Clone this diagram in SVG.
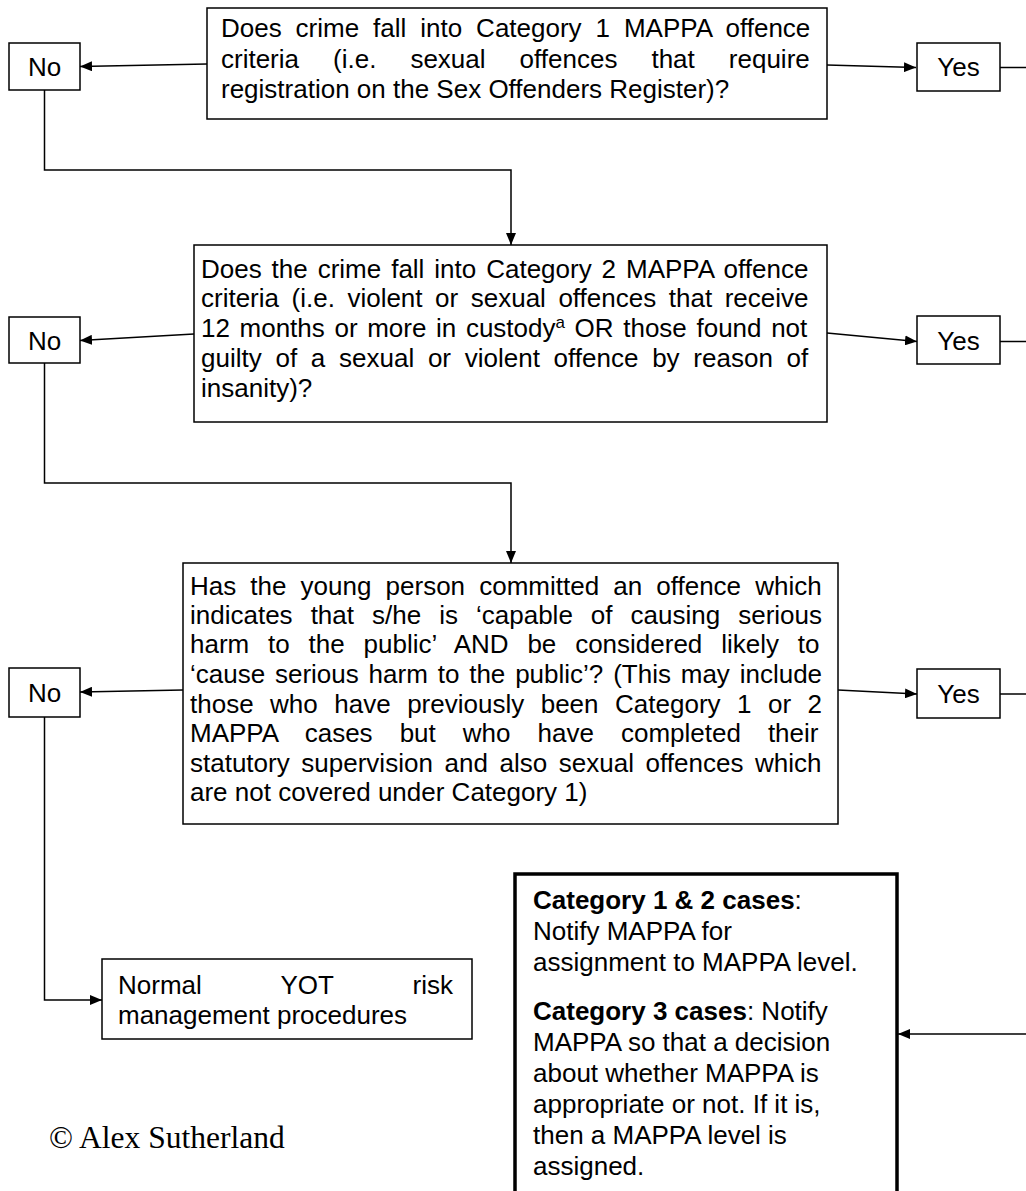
<svg xmlns="http://www.w3.org/2000/svg" width="1026" height="1191" viewBox="0 0 1026 1191">
<style>
  .box{fill:#fff;stroke:#000;stroke-width:1.5}
  .thick{fill:#fff;stroke:#000;stroke-width:3.5}
  .t{font-family:"Liberation Sans",Arial,sans-serif;font-size:26px;fill:#000}
  .c{text-anchor:middle}
  .b{font-weight:bold}
  .cr{font-family:"Liberation Serif","Times New Roman",serif;font-size:31.5px;fill:#000}
  .ln{fill:none;stroke:#000;stroke-width:1.5}
</style>
<defs>
  <marker id="ah" markerUnits="userSpaceOnUse" markerWidth="12" markerHeight="10" refX="12" refY="5" orient="auto">
    <path d="M0,0 L12,5 L0,10 Z" fill="#000"/>
  </marker>
</defs>
<rect width="1026" height="1191" fill="#fff"/>

<g id="connectors">
  <line class="ln" x1="207" y1="64" x2="80" y2="66.5" marker-end="url(#ah)"/>
  <line class="ln" x1="827" y1="65" x2="916" y2="67.5" marker-end="url(#ah)"/>
  <line class="ln" x1="1000" y1="67.5" x2="1026" y2="67.5"/>
  <path class="ln" d="M44.5,90 V170 H511 V245" marker-end="url(#ah)"/>
  <line class="ln" x1="194" y1="334" x2="80" y2="340.5" marker-end="url(#ah)"/>
  <line class="ln" x1="827" y1="333" x2="917" y2="341.5" marker-end="url(#ah)"/>
  <line class="ln" x1="1000" y1="341.5" x2="1026" y2="341.5"/>
  <path class="ln" d="M44.5,363 V483 H511 V563" marker-end="url(#ah)"/>
  <line class="ln" x1="183" y1="690" x2="80" y2="692" marker-end="url(#ah)"/>
  <line class="ln" x1="838" y1="690" x2="917" y2="694" marker-end="url(#ah)"/>
  <line class="ln" x1="1000" y1="694" x2="1026" y2="694"/>
  <path class="ln" d="M44.5,717 V1000 H102" marker-end="url(#ah)"/>
  <line class="ln" x1="1026" y1="1034" x2="898" y2="1034" marker-end="url(#ah)"/>
</g>

<g id="q1">
  <rect class="box" x="207" y="8" width="620" height="111"/>
  <text class="t" x="221" y="37" word-spacing="6.7">Does crime fall into Category 1 MAPPA offence</text>
  <text class="t" x="221" y="68" word-spacing="26.8">criteria (i.e. sexual offences that require</text>
  <text class="t" x="221" y="98">registration on the Sex Offenders Register)?</text>
</g>
<g id="no1">
  <rect class="box" x="9" y="43" width="71" height="47"/>
  <text class="t c" x="44.5" y="76">No</text>
</g>
<g id="yes1">
  <rect class="box" x="917" y="43" width="83" height="48"/>
  <text class="t c" x="958.5" y="76">Yes</text>
</g>

<g id="q2">
  <rect class="box" x="194" y="245" width="633" height="177"/>
  <text class="t" x="201" y="277.5" word-spacing="2.7">Does the crime fall into Category 2 MAPPA offence</text>
  <text class="t" x="201" y="307" word-spacing="5.3">criteria (i.e. violent or sexual offences that receive</text>
  <text class="t" x="201" y="337" word-spacing="2.4">12 months or more in custody<tspan font-size="17" dy="-9">a</tspan><tspan dy="9"> OR those found not</tspan></text>
  <text class="t" x="201" y="366.5" word-spacing="6.5">guilty of a sexual or violent offence by reason of</text>
  <text class="t" x="201" y="396.5">insanity)?</text>
</g>
<g id="no2">
  <rect class="box" x="9" y="317" width="71" height="46"/>
  <text class="t c" x="44.5" y="349.5">No</text>
</g>
<g id="yes2">
  <rect class="box" x="917" y="316" width="83" height="48"/>
  <text class="t c" x="958.5" y="349.5">Yes</text>
</g>

<g id="q3">
  <rect class="box" x="183" y="563" width="655" height="261"/>
  <text class="t" x="190" y="594.5" word-spacing="6.89">Has the young person committed an offence which</text>
  <text class="t" x="190" y="624" word-spacing="10.8">indicates that s/he is ‘capable of causing serious</text>
  <text class="t" x="190" y="653.3" word-spacing="11.6">harm to the public’ AND be considered likely to</text>
  <text class="t" x="190" y="683" word-spacing="2.6">‘cause serious harm to the public’? (This may include</text>
  <text class="t" x="190" y="712.5" word-spacing="9.27">those who have previously been Category 1 or 2</text>
  <text class="t" x="190" y="742" word-spacing="19.8">MAPPA cases but who have completed their</text>
  <text class="t" x="190" y="771.5" word-spacing="4.4">statutory supervision and also sexual offences which</text>
  <text class="t" x="190" y="801">are not covered under Category 1)</text>
</g>
<g id="no3">
  <rect class="box" x="9" y="668" width="71" height="49"/>
  <text class="t c" x="44.5" y="701.5">No</text>
</g>
<g id="yes3">
  <rect class="box" x="917" y="669" width="83" height="49"/>
  <text class="t c" x="958.5" y="702.5">Yes</text>
</g>

<g id="normal">
  <rect class="box" x="102" y="959" width="370" height="80"/>
  <text class="t" x="118" y="994" word-spacing="71.9">Normal YOT risk</text>
  <text class="t" x="118" y="1024">management procedures</text>
</g>

<g id="notify">
  <rect class="thick" x="515" y="874" width="382" height="330"/>
  <text class="t" x="533" y="909"><tspan class="b">Category 1 &amp; 2 cases</tspan>:</text>
  <text class="t" x="533" y="940">Notify MAPPA for</text>
  <text class="t" x="533" y="971">assignment to MAPPA level.</text>
  <text class="t" x="533" y="1020"><tspan class="b">Category 3 cases</tspan>: Notify</text>
  <text class="t" x="533" y="1051">MAPPA so that a decision</text>
  <text class="t" x="533" y="1082">about whether MAPPA is</text>
  <text class="t" x="533" y="1113">appropriate or not. If it is,</text>
  <text class="t" x="533" y="1144">then a MAPPA level is</text>
  <text class="t" x="533" y="1175">assigned.</text>
</g>

<g id="credit">
  <text class="cr" x="49" y="1148">© Alex Sutherland</text>
</g>
</svg>
